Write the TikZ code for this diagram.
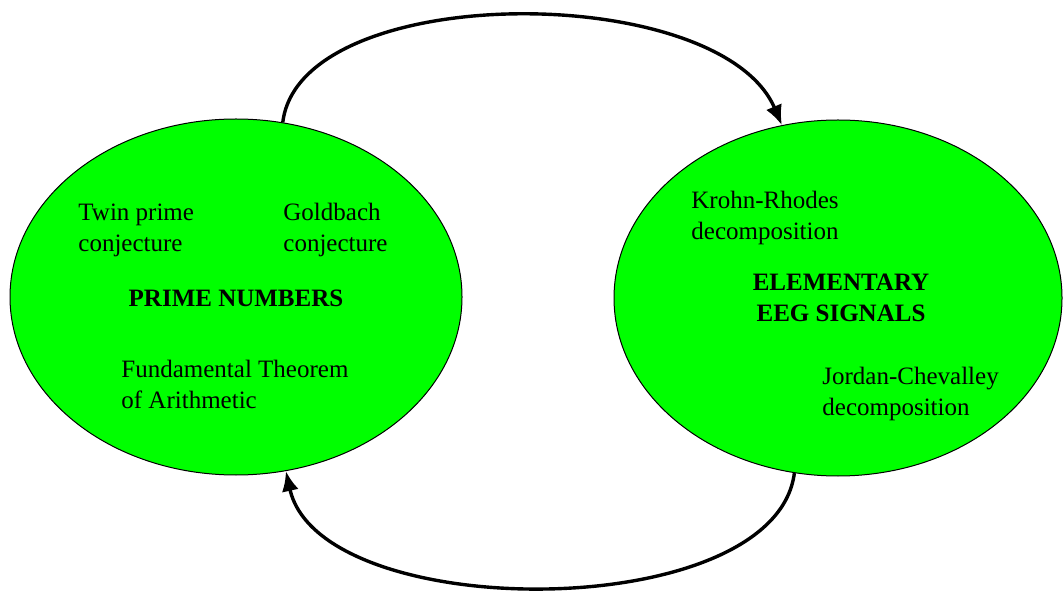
\documentclass[tikz,border=0pt]{standalone}
\usepackage{fontspec}
\setmainfont{Liberation Serif}
\newfontfamily\lserif{Liberation Serif}
\usetikzlibrary{shapes.geometric,arrows.meta}
\definecolor{brightgreen}{RGB}{0,255,0}
\begin{document}
\begin{tikzpicture}[x=0.5pt,y=-0.5pt,
  blob/.style={ellipse,draw=black,line width=0.5pt,fill=brightgreen,inner sep=0pt},
  lbl/.style={inner sep=0pt,align=left,anchor=west,font=\lserif\fontsize{12.5}{15.5}\selectfont},
  ttl/.style={inner sep=0pt,align=center,font=\lserif\fontsize{12.5}{15.5}\selectfont\bfseries},
  conn/.style={line width=1.7pt,-{Latex[length=10pt,width=8.5pt]}}]
\useasboundingbox (0,0) rectangle (1063,592);
\node[blob,minimum width=226pt,minimum height=178pt] (L) at (236,297) {};
\node[blob,minimum width=224pt,minimum height=178pt] (R) at (838,298) {};
\node[lbl] (twin) at (78,230) {Twin prime\\conjecture};
\node[lbl] (gold) at (283,230) {Goldbach\\conjecture};
\node[ttl] (prime) at (236,298) {PRIME NUMBERS};
\node[lbl] (fta) at (121,384) {Fundamental Theorem\\of Arithmetic};
\node[lbl] (krohn) at (691,218) {Krohn-Rhodes\\decomposition};
\node[ttl] (eeg) at (841,298) {ELEMENTARY\\EEG SIGNALS};
\node[lbl] (jordan) at (822,394) {Jordan-Chevalley\\decomposition};
\draw[conn] (L.75) .. controls (300,-20) and (720,-20) .. (R.108);
\draw[conn] (R.256) .. controls (775,625) and (320,625) .. (L.286);
\end{tikzpicture}
\end{document}
